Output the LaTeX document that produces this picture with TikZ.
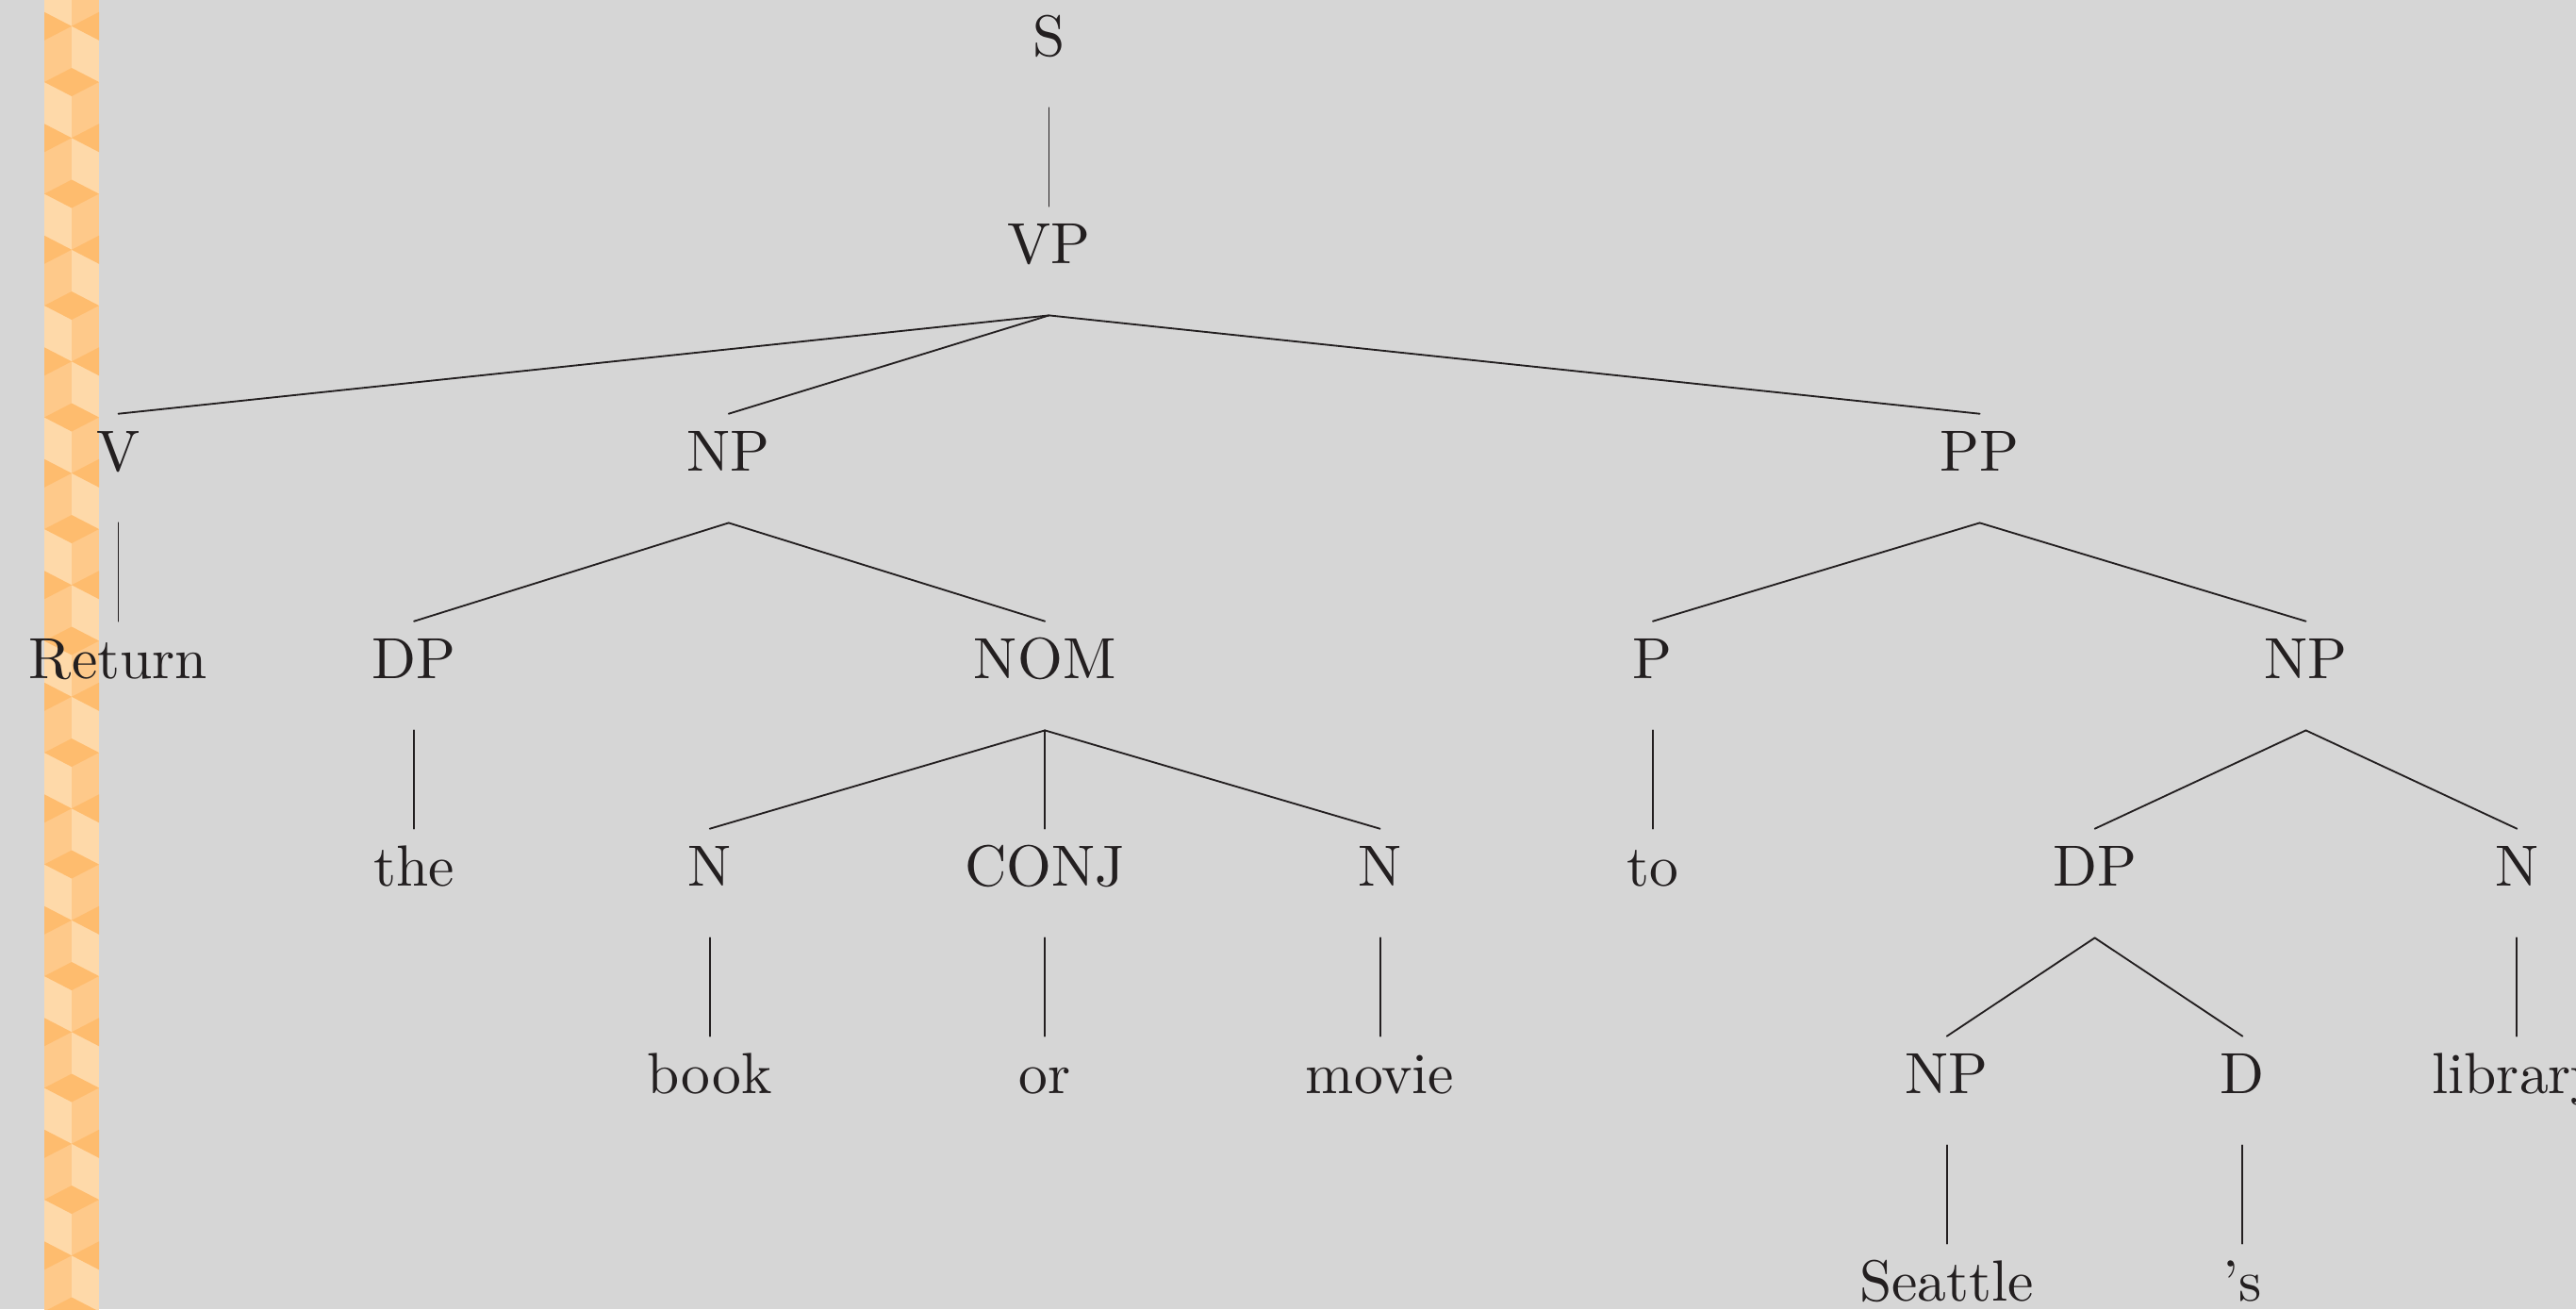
\documentclass[tikz,border=0pt]{standalone}
\definecolor{slidebg}{RGB}{214,214,214}
\definecolor{ink}{RGB}{35,31,32}
\definecolor{cubelight}{RGB}{254,217,169}
\definecolor{cubemid}{RGB}{254,201,138}
\definecolor{cubedark}{RGB}{254,188,110}
\tikzset{
	cat/.style={anchor=base, text height=9.6pt, text depth=8.8pt, inner ysep=0pt, inner xsep=1pt, text=ink},
	branch/.style={draw=ink, line width=0.3pt}
}
\begin{document}
\begin{tikzpicture}[x=0.1625pt,y=-0.1625pt,line join=round,line cap=round]
			\def \w{2732};
			\def \h{1388};
			\useasboundingbox (0,0) rectangle (\w,\h);
			\clip (0,0) rectangle (\w,\h);
			\fill[slidebg] (0,0) rectangle (\w,\h);
			% cube band on the left
			\def \bl{47};
			\def \bc{76};
			\def \br{105};
			\foreach \k in {-1,...,11}
			{
				\pgfmathsetmacro{\c}{87+118.5*\k}
				\pgfmathsetmacro{\m}{\c+59.25}
				\pgfmathsetmacro{\e}{\c+118.5}
				\fill[cubelight] (\bl,\c) rectangle (\bc,\m);
				\fill[cubemid] (\bc,\c) rectangle (\br,\m);
				\fill[cubemid] (\bl,\m) rectangle (\bc,\e);
				\fill[cubelight] (\bc,\m) rectangle (\br,\e);
				\fill[cubedark] (\bl,\c) -- (\bc,\c-15) -- (\br,\c) -- (\bc,\c+15) -- cycle;
				\fill[cubedark] (\bl,\m-15) -- (\bc,\m) -- (\bl,\m+15) -- cycle;
				\fill[cubedark] (\br,\m-15) -- (\bc,\m) -- (\br,\m+15) -- cycle;
			}
			% the tree, one row every 220 units
			\node[cat] (s) at (1112.5,59) {S};
			\node[cat] (vp) at (1112.5,279) {VP};
			\node[cat] (v) at (125.5,499) {V};
			\node[cat] (np) at (772.8,499) {NP};
			\node[cat] (pp) at (2099.6,499) {PP};
			\node[cat] (return) at (125.5,719) {Return};
			\node[cat] (dp) at (439.1,719) {DP};
			\node[cat] (nom) at (1108.2,719) {NOM};
			\node[cat] (p) at (1752.9,719) {P};
			\node[cat] (npb) at (2445.5,719) {NP};
			\node[cat] (the) at (439.1,939) {the};
			\node[cat] (na) at (752.7,939) {N};
			\node[cat] (conj) at (1108.2,939) {CONJ};
			\node[cat] (nb) at (1463.6,939) {N};
			\node[cat] (to) at (1752.9,939) {to};
			\node[cat] (dpb) at (2221.6,939) {DP};
			\node[cat] (nc) at (2669.4,939) {N};
			\node[cat] (book) at (752.7,1159) {book};
			\node[cat] (or) at (1108.2,1159) {or};
			\node[cat] (movie) at (1463.6,1159) {movie};
			\node[cat] (npc) at (2064.7,1159) {NP};
			\node[cat] (d) at (2378.4,1159) {D};
			\node[cat] (library) at (2669.4,1159) {library};
			\node[cat] (seattle) at (2064.7,1379) {Seattle};
			\node[cat] (poss) at (2378.4,1379) {'s};
			\foreach \a/\b in {s/vp,vp/v,vp/np,vp/pp,v/return,np/dp,np/nom,pp/p,pp/npb,
				dp/the,nom/na,nom/conj,nom/nb,p/to,npb/dpb,npb/nc,
				na/book,conj/or,nb/movie,dpb/npc,dpb/d,nc/library,npc/seattle,d/poss}
			{
				\draw[branch] (\a.south) -- (\b.north);
			}
\end{tikzpicture}
\end{document}
